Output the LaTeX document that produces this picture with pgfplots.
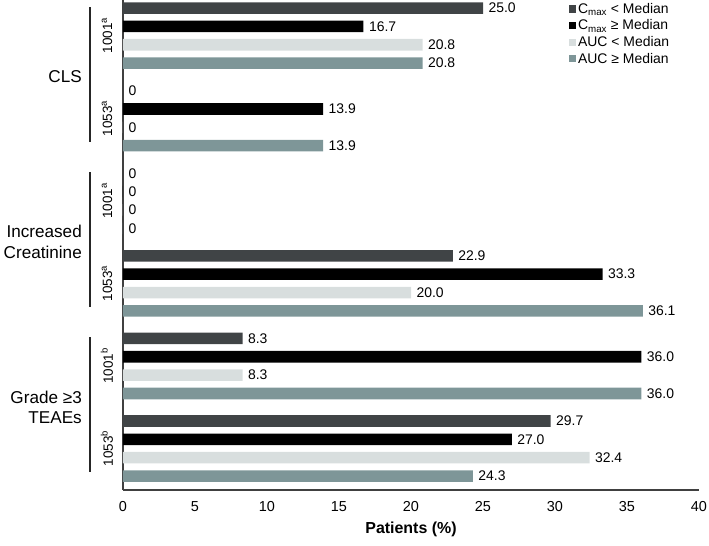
\documentclass[border=0pt]{standalone}
\usepackage{fontspec}
\setmainfont{Liberation Sans}
\usepackage{pgfplots}
\pgfplotsset{compat=1.18}
\definecolor{cA}{RGB}{64,68,70}
\definecolor{cB}{RGB}{0,0,0}
\definecolor{cC}{RGB}{216,222,222}
\definecolor{cD}{RGB}{126,150,152}
\begin{document}
\begin{tikzpicture}
\begin{axis}[
  name=ax,
  scale only axis, width=576bp, height=490bp,
  xmin=0, xmax=40, ymin=-0.44, ymax=26.26, y dir=reverse,
  xbar, bar width=0.63,
  clip=false,
  axis x line=bottom, axis y line=left,
  axis line style={draw=black!75, line width=1.3pt, -},
  xtick={0,5,...,40}, ytick=\empty, major tick length=0,
  /pgf/number format/assume math mode=true,
  tick label style={font=\fontsize{14.5}{17}\selectfont},
  xticklabel style={yshift=-8bp},
  xlabel={\textbf{Patients (\%)}},
  xlabel style={font=\fontsize{16}{18}\selectfont, yshift=-3bp},
  nodes near coords, point meta=explicit symbolic,
  every node near coord/.append style={anchor=west, font=\fontsize{14}{16}\selectfont, text=black, xshift=2bp},
  legend style={at={(rel axis cs:0.772,1.0)}, anchor=north west, draw=none, fill=none,
    font=\fontsize{14}{16}\selectfont, row sep=1bp, inner sep=1bp},
  legend cell align=left,
  legend image code/.code={\fill[#1] (0bp,-3.6bp) rectangle (7.2bp,3.6bp);},
]
\addplot[fill=cA, draw=none, bar shift=0pt] coordinates {
 (25.0,0) [25.0] (0,4.5) [0] (0,9) [0] (22.9,13.5) [22.9] (8.3,18) [8.3] (29.7,22.5) [29.7]};
\addlegendentry{C\textsubscript{max} < Median}
\addplot[fill=cB, draw=none, bar shift=0pt] coordinates {
 (16.7,1) [16.7] (13.9,5.5) [13.9] (0,10) [0] (33.3,14.5) [33.3] (36.0,19) [36.0] (27.0,23.5) [27.0]};
\addlegendentry{C\textsubscript{max} ≥ Median}
\addplot[fill=cC, draw=none, bar shift=0pt] coordinates {
 (20.8,2) [20.8] (0,6.5) [0] (0,11) [0] (20.0,15.5) [20.0] (8.3,20) [8.3] (32.4,24.5) [32.4]};
\addlegendentry{AUC < Median}
\addplot[fill=cD, draw=none, bar shift=0pt] coordinates {
 (20.8,3) [20.8] (13.9,7.5) [13.9] (0,12) [0] (36.1,16.5) [36.1] (36.0,21) [36.0] (24.3,25.5) [24.3]};
\addlegendentry{AUC ≥ Median}

% group brackets
\draw[line width=1.5bp, black!85] ([xshift=-33bp]axis cs:0,-0.05) -- ([xshift=-33bp]axis cs:0,7.3);
\draw[line width=1.5bp, black!85] ([xshift=-33bp]axis cs:0,8.95) -- ([xshift=-33bp]axis cs:0,16.3);
\draw[line width=1.5bp, black!85] ([xshift=-33bp]axis cs:0,17.95) -- ([xshift=-33bp]axis cs:0,25.3);
% group labels
\node[anchor=east, align=right, font=\fontsize{17.2}{20.5}\selectfont, inner xsep=2bp] at ([xshift=-39bp]axis cs:0,3.75) {CLS};
\node[anchor=east, align=right, font=\fontsize{17.2}{20.5}\selectfont, inner xsep=2bp] at ([xshift=-39bp]axis cs:0,12.75) {Increased\\Creatinine};
\node[anchor=east, align=right, font=\fontsize{17.2}{20.5}\selectfont, inner xsep=2bp] at ([xshift=-39bp]axis cs:0,21.75) {Grade ≥3\\TEAEs};
% study labels
\node[rotate=90, font=\fontsize{13.5}{15}\selectfont] at ([xshift=-16bp]axis cs:0,1.5) {1001\textsuperscript{a}};
\node[rotate=90, font=\fontsize{13.5}{15}\selectfont] at ([xshift=-16bp]axis cs:0,6) {1053\textsuperscript{a}};
\node[rotate=90, font=\fontsize{13.5}{15}\selectfont] at ([xshift=-16bp]axis cs:0,10.5) {1001\textsuperscript{a}};
\node[rotate=90, font=\fontsize{13.5}{15}\selectfont] at ([xshift=-16bp]axis cs:0,15) {1053\textsuperscript{a}};
\node[rotate=90, font=\fontsize{13.5}{15}\selectfont] at ([xshift=-16bp]axis cs:0,19.5) {1001\textsuperscript{b}};
\node[rotate=90, font=\fontsize{13.5}{15}\selectfont] at ([xshift=-16bp]axis cs:0,24) {1053\textsuperscript{b}};
\coordinate (sw) at (rel axis cs:0,0);
\coordinate (ne) at (rel axis cs:1,1);
\end{axis}
\pgfresetboundingbox
\path[use as bounding box] ([xshift=-123bp,yshift=-56bp]sw) rectangle ([xshift=10bp]ne);
\end{tikzpicture}
\end{document}
